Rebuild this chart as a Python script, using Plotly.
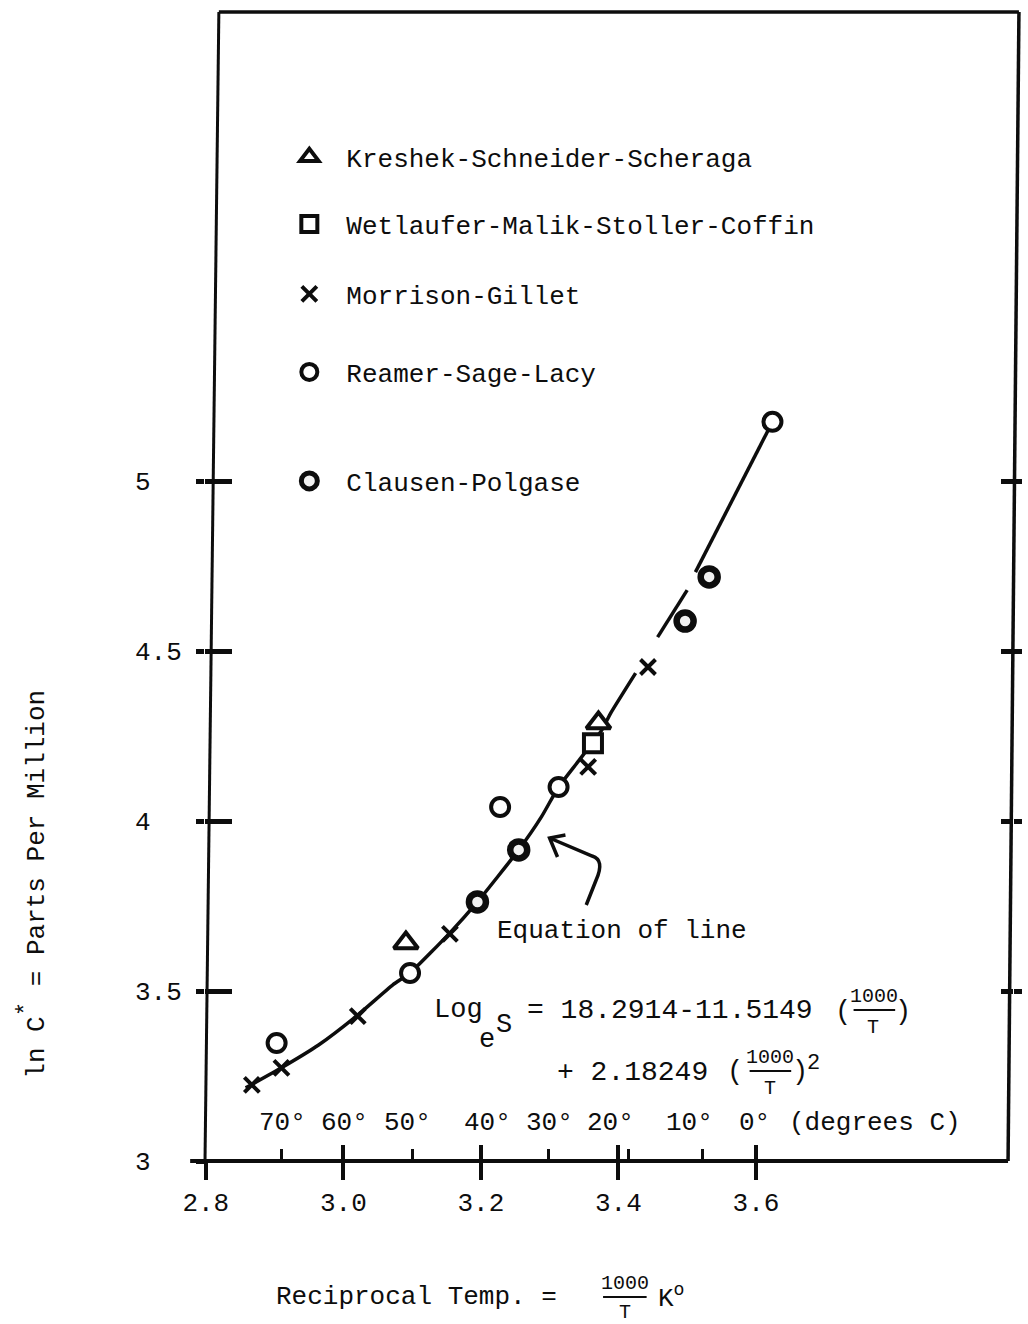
import plotly.graph_objects as go

# ---------------- data: 1000/T (1/K) versus ln C* (ppm) ----------------
KSS_X = [3.091, 3.371]                      # Kreshek-Schneider-Scheraga
KSS_Y = [3.641, 4.288]
WMSC_X = [3.363]                            # Wetlaufer-Malik-Stoller-Coffin
WMSC_Y = [4.229]
MG_X = [2.867, 2.910, 3.021, 3.155, 3.356, 3.443]   # Morrison-Gillet
MG_Y = [3.224, 3.274, 3.426, 3.668, 4.159, 4.453]
RSL_X = [2.903, 3.097, 3.228, 3.313, 3.624]         # Reamer-Sage-Lacy
RSL_Y = [3.347, 3.553, 4.041, 4.100, 5.174]
CP_X = [3.195, 3.255, 3.497, 3.532]                 # Clausen-Polgase
CP_Y = [3.762, 3.915, 4.588, 4.718]

# hand-drawn fitted curve (None = pen lifted)
FIT_X = [2.858, 2.910, 2.964, 3.019, 3.072, 3.097, 3.155, 3.195, 3.255, 3.288,
         3.313, 3.343, 3.376, 3.389, 3.425, None, 3.457, 3.500, None, 3.512, 3.624]
FIT_Y = [3.215, 3.274, 3.341, 3.426, 3.518, 3.553, 3.671, 3.762, 3.915, 4.012,
         4.100, 4.179, 4.268, 4.318, 4.435, None, 4.541, 4.679, None, 4.732, 5.174]

X_TICKS = [2.8, 3.0, 3.2, 3.4, 3.6]
X_TICK_TEXT = ["2.8", "3.0", "3.2", "3.4", "3.6"]
Y_TICKS = [3, 3.5, 4, 4.5, 5]
Y_TICK_TEXT = ["3", "3.5", "4", "4.5", "5"]
Y_FRAME_TICKS = [3.5, 4, 4.5, 5]
TEMP_TICKS = [2.910, 3.100, 3.298, 3.415, 3.522]    # 70, 50, 30, 20, 10 deg C
TEMP_LABELS = ["70°", "60°", "50°", "40°", "30°", "20°", "10°", "0°"]
TEMP_LABEL_X = [2.911, 3.002, 3.094, 3.209, 3.300, 3.388, 3.503, 3.598]

SERIES_NAMES = ["Kreshek-Schneider-Scheraga", "Wetlaufer-Malik-Stoller-Coffin",
                "Morrison-Gillet", "Reamer-Sage-Lacy", "Clausen-Polgase"]

# ---------------- page geometry ----------------
FIG_W, FIG_H = 1028, 1324
PLOT_L, PLOT_R, PLOT_T, PLOT_B = 205, 1021, 12, 1162
X_REF_PX, X_REF, X_SCALE = 483.6, 3.2, 694.5      # px per unit of 1000/T
Y_REF_PX, Y_REF, Y_SCALE = 1161.0, 3.0, 340.0     # px per unit of ln C*

FONT = "Liberation Mono, Courier New, monospace"
INK = "#0d0d0d"
SMALL = 20   # numerals of the stacked fractions

X_RANGE = [X_REF + (PLOT_L - X_REF_PX) / X_SCALE, X_REF + (PLOT_R - X_REF_PX) / X_SCALE]
Y_RANGE = [Y_REF + (Y_REF_PX - PLOT_B) / Y_SCALE, Y_REF + (Y_REF_PX - PLOT_T) / Y_SCALE]


def px(xp):
    return (xp - PLOT_L) / (PLOT_R - PLOT_L)


def py(yp):
    return (PLOT_B - yp) / (PLOT_B - PLOT_T)


def note(text, xp, yp, size=26, xanchor="center", yanchor="middle", **kw):
    return dict(text=text, x=px(xp), y=py(yp), xref="paper", yref="paper",
                showarrow=False, xanchor=xanchor, yanchor=yanchor,
                font=dict(family=FONT, size=size, color=INK), **kw)


def seg(x0, y0, x1, y1, w=3.5):
    return dict(type="line", xref="paper", yref="paper",
                x0=px(x0), y0=py(y0), x1=px(x1), y1=py(y1),
                line=dict(color=INK, width=w))


fig = go.Figure()

# fitted curve
fig.add_trace(go.Scatter(x=FIT_X, y=FIT_Y, mode="lines", showlegend=False,
                         line=dict(color=INK, width=3.5, shape="spline", smoothing=0.5),
                         hoverinfo="skip", connectgaps=False))

marker_line = dict(color=INK, width=4)
fig.add_trace(go.Scatter(x=MG_X, y=MG_Y, mode="markers", name=SERIES_NAMES[2], legend="legend3",
                         marker=dict(symbol="x-thin", size=15, line=dict(color=INK, width=4))))
fig.add_trace(go.Scatter(x=KSS_X, y=KSS_Y, mode="markers", name=SERIES_NAMES[0], legend="legend",
                         marker=dict(symbol="triangle-up", size=21, color="white", line=marker_line)))
fig.add_trace(go.Scatter(x=WMSC_X, y=WMSC_Y, mode="markers", name=SERIES_NAMES[1], legend="legend2",
                         marker=dict(symbol="square", size=18, color="white", line=marker_line)))
fig.add_trace(go.Scatter(x=RSL_X, y=RSL_Y, mode="markers", name=SERIES_NAMES[3], legend="legend4",
                         marker=dict(symbol="circle", size=18, color="white", line=marker_line)))
fig.add_trace(go.Scatter(x=CP_X, y=CP_Y, mode="markers", name=SERIES_NAMES[4], legend="legend5",
                         marker=dict(symbol="circle", size=17, color="#f2f2f2",
                                     line=dict(color=INK, width=6.5))))

# one legend box per entry so each line sits at its own height
legend_rows = {"legend": 157, "legend2": 224, "legend3": 294, "legend4": 372, "legend5": 481}
legend_layout = {}
for key, ycen in legend_rows.items():
    legend_layout[key] = dict(x=px(273), y=py(ycen), xanchor="left", yanchor="middle",
                              xref="paper", yref="paper", itemwidth=64,
                              bgcolor="rgba(0,0,0,0)", borderwidth=0,
                              font=dict(family=FONT, size=26, color=INK),
                              itemclick=False, itemdoubleclick=False)

axis_common = dict(showgrid=False, zeroline=False, showline=False, ticks="outside",
                   tickcolor=INK)

y_labels = [t.ljust(3, "\u00a0") for t in Y_TICK_TEXT]

fig.update_layout(
    width=FIG_W, height=FIG_H,
    margin=dict(l=PLOT_L, r=FIG_W - PLOT_R, t=PLOT_T, b=FIG_H - PLOT_B),
    paper_bgcolor="white", plot_bgcolor="white",
    font=dict(family=FONT, size=26, color=INK),
    **legend_layout,
    xaxis=dict(axis_common, range=X_RANGE, tickvals=X_TICKS, ticktext=X_TICK_TEXT,
               ticklen=17, tickwidth=3.5, ticklabelstandoff=0,
               tickfont=dict(family=FONT, size=26, color=INK)),
    xaxis2=dict(axis_common, range=X_RANGE, overlaying="x", anchor="y", tickvals=X_TICKS,
                ticks="inside", ticklen=17, tickwidth=3.5, showticklabels=False),
    xaxis3=dict(axis_common, range=X_RANGE, overlaying="x", anchor="y", tickvals=TEMP_TICKS,
                ticks="inside", ticklen=13, tickwidth=3, showticklabels=False),
    yaxis=dict(axis_common, range=Y_RANGE, tickvals=Y_TICKS, ticktext=y_labels,
               ticklen=8, tickwidth=4.5, ticklabelstandoff=9,
               tickfont=dict(family=FONT, size=26, color=INK)),
    yaxis2=dict(axis_common, range=Y_RANGE, overlaying="y", anchor="x", side="left",
                tickvals=Y_FRAME_TICKS, ticks="inside", ticklen=27, tickwidth=4.5,
                showticklabels=False),
    yaxis3=dict(axis_common, range=Y_RANGE, overlaying="y", anchor="x", side="right",
                tickvals=Y_FRAME_TICKS, ticks="inside", ticklen=12, tickwidth=4.5,
                showticklabels=False),
    yaxis4=dict(axis_common, range=Y_RANGE, overlaying="y", anchor="x", side="right",
                tickvals=Y_FRAME_TICKS, ticks="outside", ticklen=8, tickwidth=4.5,
                showticklabels=False),
)

# invisible anchors so the overlay axes get drawn
for xa, ya in [("x2", "y"), ("x3", "y"), ("x", "y2"), ("x", "y3"), ("x", "y4")]:
    fig.add_trace(go.Scatter(x=[None], y=[None], xaxis=xa, yaxis=ya, showlegend=False,
                             hoverinfo="skip"))

# frame and baseline
shapes = [
    seg(219, PLOT_T, 1027, PLOT_T, 3.5),
    seg(219, PLOT_T, 205, 1161, 3),
    seg(1027, PLOT_T, 1016, 1161, 3.5),
    seg(190, 1161, 1016, 1161, 4),
    # fraction bars
    seg(860, 1010, 902, 1010, 2),
    seg(755, 1071, 797, 1071, 2),
    seg(607, 1297, 651, 1297, 2),
]

# curved pointer to the fitted line
path = "M {} {} L {} {} Q {} {} {} {} L {} {}".format(
    px(590), py(905), px(600), py(880), px(609), py(860), px(596), py(856), px(553), py(838))
shapes.append(dict(type="path", xref="paper", yref="paper", path=path,
                   line=dict(color=INK, width=3.5)))
head = "M {} {} L {} {} L {} {}".format(px(569), py(835), px(553), py(838), px(561), py(857))
shapes.append(dict(type="path", xref="paper", yref="paper", path=head,
                   line=dict(color=INK, width=3.5)))
fig.update_layout(shapes=shapes)

annotations = []
# Celsius scale along the bottom axis
for lab, xv in zip(TEMP_LABELS, TEMP_LABEL_X):
    annotations.append(dict(text=lab, x=xv, y=py(1123), xref="x", yref="paper",
                            showarrow=False, xanchor="center", yanchor="middle",
                            font=dict(family=FONT, size=26, color=INK)))
annotations.append(note("(degrees C)", 793, 1123, xanchor="left"))

# fitted equation
annotations += [
    note("Equation of line", 626, 931),
    note("Log", 461, 1010, size=27),
    note("e", 490, 1040, size=27),
    note("S", 507, 1025, size=27),
    note("= 18.2914-11.5149", 528, 1010, size=28, xanchor="left"),
    note("(", 849, 1012, size=27),
    note("1000", 881, 996, size=SMALL),
    note("T", 880, 1027, size=SMALL),
    note(")", 910, 1012, size=27),
    note("+ 2.18249", 558, 1072, size=28, xanchor="left"),
    note("(", 740, 1072, size=27),
    note("1000", 776, 1057, size=SMALL),
    note("T", 776, 1088, size=SMALL),
    note(")", 806, 1072, size=27),
    note("2", 820, 1063, size=22),
]

# axis titles
annotations += [
    note("Reciprocal Temp. =", 275, 1297, xanchor="left"),
    note("1000", 629, 1283, size=SMALL),
    note("T", 629, 1312, size=SMALL),
    note("K<sup>o</sup>", 660, 1297, xanchor="left"),
    note("ln C<sup><span style='font-size:24px'>*</span></sup> = Parts Per Million",
         30, 884, textangle=-90),
]
fig.update_layout(annotations=annotations)

fig.write_html("out.html", config={"displayModeBar": False})
